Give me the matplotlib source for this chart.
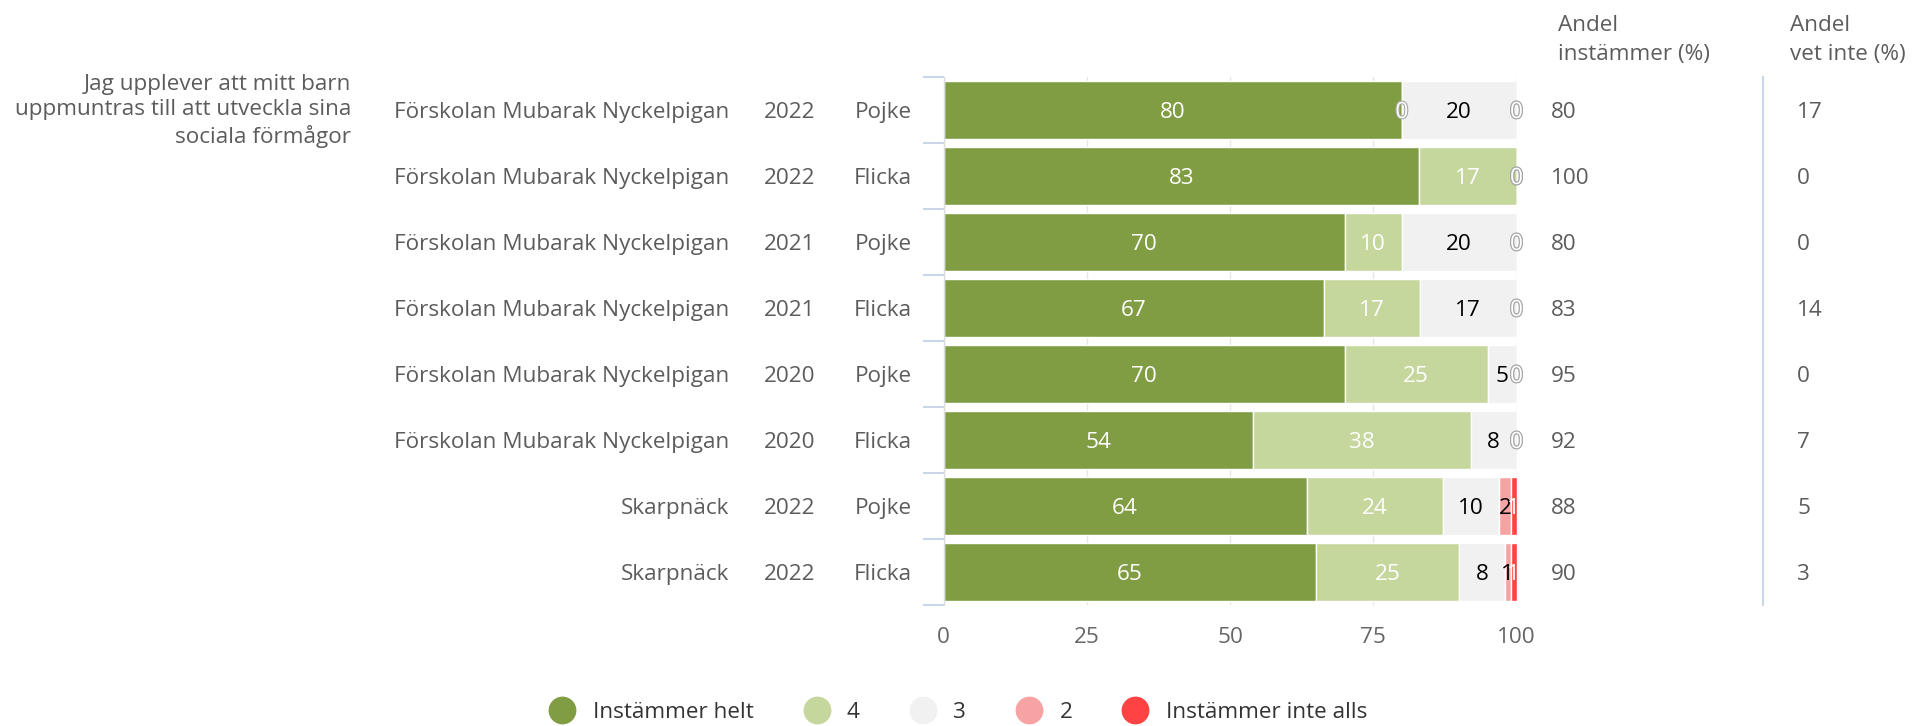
import matplotlib
matplotlib.use("Agg")
import matplotlib.pyplot as plt
import matplotlib.transforms as mtransforms
import matplotlib.patheffects as pe
from matplotlib.lines import Line2D
import numpy as np

plt.rcParams['font.family'] = ['Open Sans', 'DejaVu Sans']

# data
question = "Jag upplever att mitt barn\nuppmuntras till att utveckla sina\nsociala förmågor"
units = ["Förskolan Mubarak Nyckelpigan"] * 6 + ["Skarpnäck"] * 2
years = ["2022", "2022", "2021", "2021", "2020", "2020", "2022", "2022"]
genders = ["Pojke", "Flicka", "Pojke", "Flicka", "Pojke", "Flicka", "Pojke", "Flicka"]

series_names = ["Instämmer helt", "4", "3", "2", "Instämmer inte alls"]
helt = [80, 83, 70, 67, 70, 54, 64, 65]
four = [0, 17, 10, 17, 25, 38, 24, 25]
three = [20, 0, 20, 17, 5, 8, 10, 8]
two = [0, 0, 0, 0, 0, 0, 2, 1]
inte_alls = [0, 0, 0, 0, 0, 0, 1, 1]

andel_instammer = [80, 100, 80, 83, 95, 92, 88, 90]
andel_vet_inte = [17, 0, 0, 14, 0, 7, 5, 3]

colors = ["#819d44", "#c5d79d", "#f1f1f1", "#f8a3a3", "#ff4242"]
label_colors = ["white", "white", "black", "black", "white"]
txt_grey = "#5c5c5c"
FS = 16.2

W, H = 1919, 726
fig = plt.figure(figsize=(W / 100, H / 100), dpi=100)


def fx(x):
    return x / W


def fy(y):
    return 1 - y / H


ax = fig.add_axes([fx(943.6), fy(605), (1516.5 - 943.6) / W, 528 / H])

data = np.array([helt, four, three, two, inte_alls], dtype=float)
totals = data.sum(axis=0)
pct = data / totals * 100
rows = np.arange(len(units))

left = np.zeros(len(units))
for k in range(len(series_names)):
    ax.barh(rows, pct[k], left=left, height=0.87, color=colors[k],
            edgecolor="white", linewidth=1, zorder=2)
    for i in rows:
        cx = left[i] + pct[k][i] / 2
        val = int(data[k][i])
        if val == 0:
            ax.text(cx, i, "0", ha="center", va="center_baseline", fontsize=FS,
                    color="white", zorder=4,
                    path_effects=[pe.withStroke(linewidth=1.6, foreground="#a8a8a8")])
        else:
            ax.text(cx, i, str(val), ha="center", va="center_baseline", fontsize=FS,
                    color=label_colors[k], zorder=4)
    left += pct[k]

ax.set_xlim(0, 100)
ax.set_ylim(len(units) - 0.5, -0.5)
ax.set_xticks([0, 25, 50, 75, 100])
ax.tick_params(axis="x", length=0, pad=16, labelsize=FS, labelcolor="#666666")
ax.set_yticks(np.arange(-0.5, len(units), 1.0))
ax.set_yticklabels([])
ax.tick_params(axis="y", length=15, width=1.5, color="#ccd6eb", direction="out")
ax.grid(axis="x", color="#e6e6e6", linewidth=1, zorder=0)
ax.set_axisbelow(True)
for s in ["top", "right", "bottom"]:
    ax.spines[s].set_visible(False)
ax.spines["left"].set_color("#dcdcdc")
ax.spines["left"].set_linewidth(1)

# category labels and table columns
tr = mtransforms.blended_transform_factory(fig.transFigure, ax.transData)
for i in rows:
    fig.text(fx(729), i, units[i], transform=tr, ha="right", va="center_baseline",
             fontsize=FS, color=txt_grey)
    fig.text(fx(790), i, years[i], transform=tr, ha="center", va="center_baseline",
             fontsize=FS, color=txt_grey)
    fig.text(fx(912), i, genders[i], transform=tr, ha="right", va="center_baseline",
             fontsize=FS, color=txt_grey)
    fig.text(fx(1551), i, str(andel_instammer[i]), transform=tr, ha="left",
             va="center_baseline", fontsize=FS, color=txt_grey)
    fig.text(fx(1797), i, str(andel_vet_inte[i]), transform=tr, ha="left",
             va="center_baseline", fontsize=FS, color=txt_grey)

fig.text(fx(351), fy(111), question, ha="right", va="center", fontsize=FS,
         color=txt_grey, multialignment="right", linespacing=1.28)
fig.text(fx(1558), fy(40), "Andel\ninstämmer (%)", ha="left", va="center",
         fontsize=FS, color=txt_grey, linespacing=1.55)
fig.text(fx(1790), fy(40), "Andel\nvet inte (%)", ha="left", va="center",
         fontsize=FS, color=txt_grey, linespacing=1.55)

# separator line
fig.add_artist(Line2D([fx(1763), fx(1763)], [fy(77), fy(605)],
                      color="#ccd6eb", linewidth=1.5))

# legend
handles = [Line2D([], [], marker="o", linestyle="", markersize=19,
                  markerfacecolor=c, markeredgecolor=c) for c in colors]
fig.legend(handles, series_names, loc="center", ncol=5,
           bbox_to_anchor=(fx(958), fy(712)), frameon=False, fontsize=FS,
           handletextpad=0.75, columnspacing=2.2, labelcolor="#333333",
           handlelength=1.2)

fig.savefig("out.png", dpi=100)
